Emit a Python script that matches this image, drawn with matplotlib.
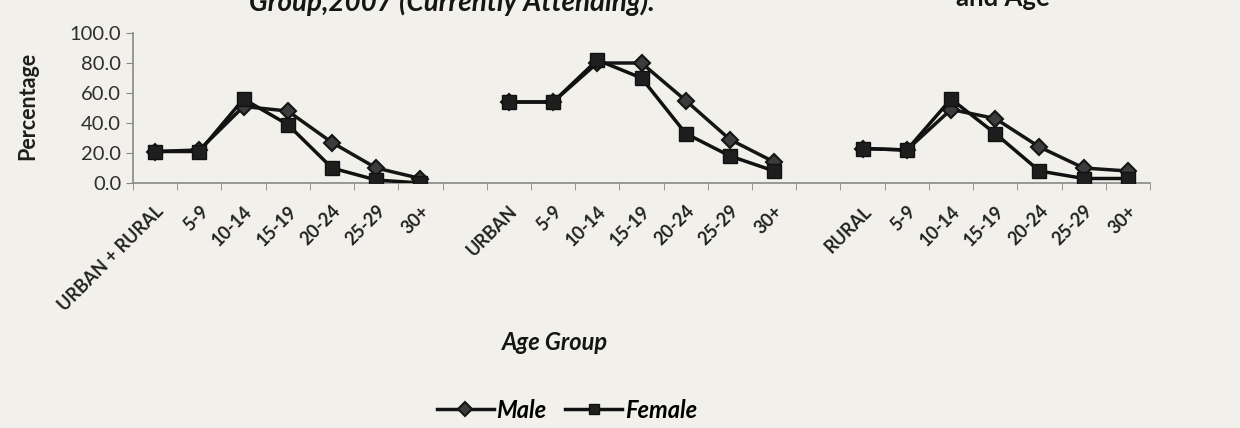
import matplotlib
matplotlib.use("Agg")
import matplotlib.pyplot as plt
import numpy as np
from matplotlib.ticker import FixedLocator, FormatStrFormatter

plt.rcParams["font.family"] = ["Lato", "DejaVu Sans"]

# categories along the x axis (blank slots separate the three blocks)
age_groups = ["5-9", "10-14", "15-19", "20-24", "25-29", "30+"]
categories = (["URBAN + RURAL"] + age_groups + [""]
              + ["URBAN"] + age_groups + [""]
              + ["RURAL"] + age_groups)

nan = np.nan
male = [21, 22, 51, 48, 27, 10, 3, nan,
        54, 54, 80, 80, 55, 29, 14, nan,
        23, 22, 49, 43, 24, 10, 8]
female = [21, 21, 56, 39, 10, 2, 0, nan,
          54, 54, 82, 70, 33, 18, 8, nan,
          23, 22, 56, 33, 8, 3, 3]

paper = "#f2f0eb"
fig = plt.figure(figsize=(12.4, 4.28), dpi=100, facecolor=paper)
ax = fig.add_axes([133 / 1240, 1 - 183 / 428, (1150 - 133) / 1240, 150 / 428])
ax.set_facecolor(paper)

x = np.arange(len(categories))
ax.plot(x, male, color="#151515", lw=2.5, marker="D", markersize=8.5,
        markerfacecolor="#3c3c3c", markeredgecolor="#151515", markeredgewidth=1.5,
        label="Male", zorder=3)
ax.plot(x, female, color="#111111", lw=2.5, marker="s", markersize=10.5,
        markerfacecolor="#1e1e1e", markeredgecolor="#111111",
        label="Female", zorder=4)

ax.set_xlim(-0.5, len(categories) - 0.5)
ax.set_ylim(0, 100)
ax.set_yticks(np.arange(0, 101, 20))
ax.yaxis.set_major_formatter(FormatStrFormatter("%.1f"))

ax.set_xticks(x)
ax.set_xticklabels(categories, rotation=45, ha="right", rotation_mode="anchor",
                   fontsize=13, fontweight="bold", color="#222222")
ax.xaxis.set_minor_locator(FixedLocator(np.arange(-0.5, len(categories), 1)))
ax.tick_params(axis="x", which="major", length=0, pad=14)
ax.tick_params(axis="x", which="minor", length=5, color="#888888", direction="out")
ax.tick_params(axis="y", length=5, color="#888888", labelsize=14.5, labelcolor="#2e2e2e")

for side in ("top", "right"):
    ax.spines[side].set_visible(False)
for side in ("left", "bottom"):
    ax.spines[side].set_color("#888888")
    ax.spines[side].set_linewidth(1.2)

fig.text(28 / 1240, 1 - 106 / 428, "Percentage", rotation=90, ha="center",
         va="center", fontsize=15.5, fontweight="bold", color="#1e1e1e")
fig.text(555 / 1240, 1 - 342 / 428, "Age Group", ha="center", va="center",
         fontsize=17, fontweight="bold", fontstyle="italic", color="#151515")

# partly cropped caption lines at the top edge of the scan
fig.text(655 / 1240, 1 - 11 / 428, "Group,2007 (Currently Attending).",
         ha="right", va="baseline", fontsize=20, fontweight="bold",
         fontstyle="italic", color="#151515")
fig.text(1050 / 1240, 1 - 6 / 428, "and Age", ha="right", va="baseline",
         fontsize=18.5, fontweight="bold", color="#151515")

leg = fig.legend(loc="center", bbox_to_anchor=(567 / 1240, 1 - 410 / 428),
                 ncol=2, frameon=False, handlelength=2.4, handletextpad=0.12,
                 columnspacing=0.8, prop={"size": 17, "weight": "bold", "style": "italic"})
for h in leg.legend_handles:
    h.set_markersize(7.5)

fig.savefig("out.png", dpi=100, facecolor=paper)
